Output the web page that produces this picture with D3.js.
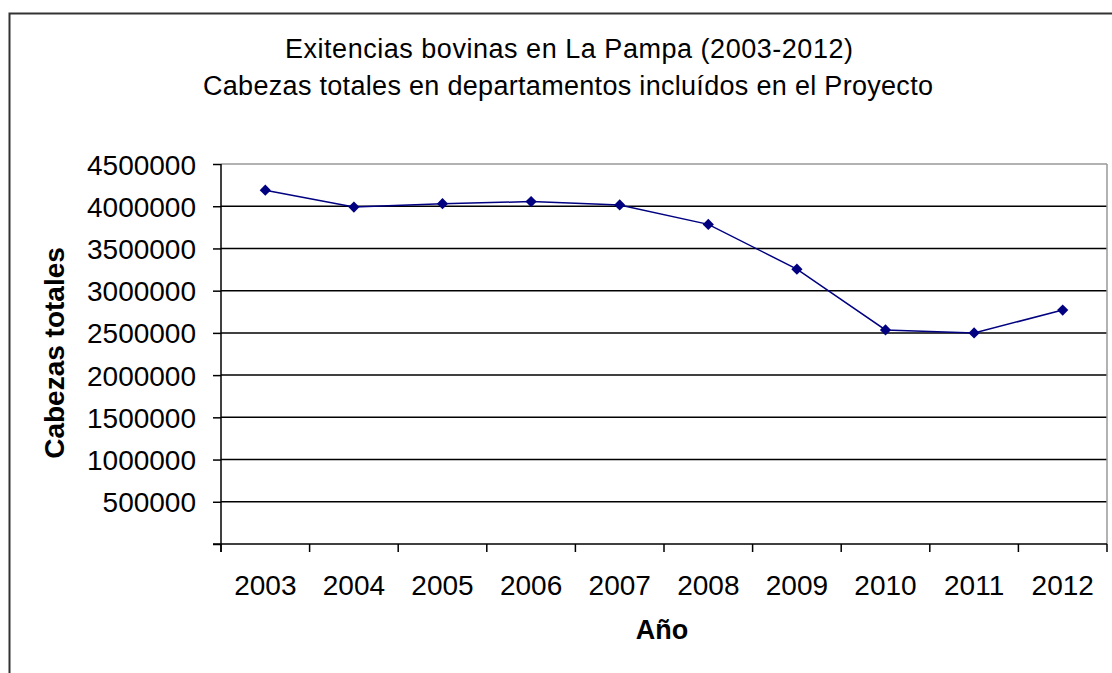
<!DOCTYPE html>
<html>
<head>
<meta charset="utf-8">
<script src="https://cdn.jsdelivr.net/npm/d3@7"></script>
<style>
	body { margin: 0; background: #fff; }
	text { font-family: "Liberation Sans", Arial, sans-serif; fill: #000; }
</style>
</head>
<body>
<svg id="chart"></svg>
<script>
// data
const years = ["2003", "2004", "2005", "2006", "2007", "2008", "2009", "2010", "2011", "2012"];
const cabezas = [4190000, 3990000, 4030000, 4055000, 4015000, 3785000, 3255000, 2535000, 2500000, 2770000];
const yTicks = [0, 500000, 1000000, 1500000, 2000000, 2500000, 3000000, 3500000, 4000000, 4500000];

const width = 1112,
	height = 673;
const margin = { top: 164, right: 5, bottom: 129, left: 221 };

const svg = d3.select("#chart").attr("width", width).attr("height", height);

// outer chart frame (runs off the right and bottom edges)
svg.append("rect")
	.attr("x", 9.5)
	.attr("y", 13.5)
	.attr("width", width + 20)
	.attr("height", height + 20)
	.attr("fill", "none")
	.attr("stroke", "#333")
	.attr("stroke-width", 2);

// title
const title = svg.append("text")
	.attr("text-anchor", "middle")
	.style("font-size", "27px");
title.append("tspan").attr("x", 569).attr("y", 58).attr("textLength", 568).text("Exitencias bovinas en La Pampa (2003-2012)");
title.append("tspan").attr("x", 568).attr("y", 95).attr("textLength", 730).text("Cabezas totales en departamentos incluídos en el Proyecto");

const x = d3.scaleBand()
	.domain(years)
	.range([margin.left, width - margin.right])
	.padding(0);

const y = d3.scaleLinear()
	.domain([0, 4500000])
	.range([height - margin.bottom, margin.top]);

// gridlines
svg.append("g")
	.selectAll("line")
	.data(yTicks.filter((d) => d > 0))
	.join("line")
	.attr("x1", margin.left)
	.attr("x2", width - margin.right)
	.attr("y1", (d) => y(d))
	.attr("y2", (d) => y(d))
	.attr("stroke", (d) => (d === 4500000 ? "#999" : "#000"))
	.attr("stroke-width", 1.5);

// plot area right border
svg.append("line")
	.attr("x1", width - margin.right)
	.attr("x2", width - margin.right)
	.attr("y1", y(4500000))
	.attr("y2", y(0))
	.attr("stroke", "#999")
	.attr("stroke-width", 1.5);

// y axis
const yAxis = d3.axisLeft(y)
	.tickValues(yTicks)
	.tickSize(8)
	.tickPadding(17)
	.tickFormat((d) => (d === 0 ? "" : d3.format("d")(d)));

svg.append("g")
	.attr("transform", `translate(${margin.left},0)`)
	.call(yAxis)
	.call((g) => g.select(".domain").remove())
	.call((g) => g.selectAll(".tick line").attr("stroke", "#000").attr("stroke-width", 1.5))
	.call((g) => g.selectAll("text").style("font-size", "28px").attr("dy", "0.36em"));

svg.append("line")
	.attr("x1", margin.left)
	.attr("x2", margin.left)
	.attr("y1", y(4500000))
	.attr("y2", y(0) + 8)
	.attr("stroke", "#000")
	.attr("stroke-width", 1.5);

// x axis
svg.append("line")
	.attr("x1", margin.left - 8)
	.attr("x2", width - margin.right)
	.attr("y1", y(0))
	.attr("y2", y(0))
	.attr("stroke", "#000")
	.attr("stroke-width", 1.5);

const bounds = years.map((d) => x(d)).concat([x(years[years.length - 1]) + x.bandwidth()]);
svg.append("g")
	.selectAll("line")
	.data(bounds)
	.join("line")
	.attr("x1", (d) => d)
	.attr("x2", (d) => d)
	.attr("y1", y(0))
	.attr("y2", y(0) + 8)
	.attr("stroke", "#000")
	.attr("stroke-width", 1.5);

const xAxis = d3.axisBottom(x).tickSize(0).tickPadding(31);
svg.append("g")
	.attr("transform", `translate(0,${y(0)})`)
	.call(xAxis)
	.call((g) => g.select(".domain").remove())
	.call((g) => g.selectAll("text").style("font-size", "28px"));

// axis titles
svg.append("text")
	.attr("transform", `translate(64,353) rotate(-90)`)
	.attr("text-anchor", "middle")
	.style("font-size", "28px")
	.style("font-weight", "bold")
	.text("Cabezas totales");

svg.append("text")
	.attr("x", 662)
	.attr("y", 639)
	.attr("text-anchor", "middle")
	.style("font-size", "27px")
	.style("font-weight", "bold")
	.text("Año");

// series line and markers
const pts = years.map((d, i) => [x(d) + x.bandwidth() / 2, y(cabezas[i])]);

svg.append("path")
	.datum(pts)
	.attr("d", d3.line())
	.attr("fill", "none")
	.attr("stroke", "#000080")
	.attr("stroke-width", 1.5);

svg.append("g")
	.selectAll("path")
	.data(pts)
	.join("path")
	.attr("transform", (d) => `translate(${d[0]},${d[1]})`)
	.attr("d", d3.symbol(d3.symbolDiamond2, 80))
	.attr("fill", "#000080");
</script>
</body>
</html>
